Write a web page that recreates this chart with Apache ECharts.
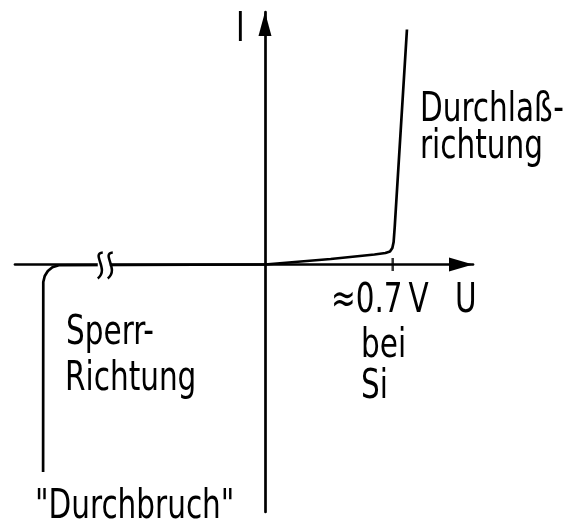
<!DOCTYPE html>
<html>
<head>
<meta charset="utf-8">
<script src="https://cdn.jsdelivr.net/npm/echarts@6/dist/echarts.min.js"></script>
<style>
  html, body { margin: 0; padding: 0; background: #fff; }
  #chart { width: 587px; height: 523px; }
</style>
</head>
<body>
<div id="chart"></div>
<script>
// Diode characteristic, U in V, I in arbitrary units (mA)
var forwardCurve = [
    [0, 0], [0.36, 2.2], [0.6, 4.0], [0.66, 4.6], [0.685, 5.2],
    [0.698, 6.6], [0.705, 9.0], [0.711, 15], [0.778, 94]
];
var reverseCurve = [
    [0, 0], [-1.13, -0.3], [-1.165, -1.1], [-1.19, -2.6], [-1.207, -4.6],
    [-1.215, -7.0], [-1.216, -83]
];
var breakMark = [[-0.9, 0]];
var tickMark = [[0.7, 0]];

var FONT = '"DejaVu Sans Condensed", "DejaVu Sans", sans-serif';

// annotation text, squeezed to the narrow lettering of the drawing
function label(text, x, y) {
    return {
        type: "text",
        x: x,
        y: y,
        scaleX: 0.8,
        style: {
            text: text,
            fill: "#000",
            font: "41px " + FONT,
            verticalAlign: "top",
        },
    };
}

var chart = echarts.init(document.getElementById("chart"));
chart.setOption({
    backgroundColor: "#fff",
    animation: false,
    grid: { left: 15, right: 114, top: 12, bottom: 11 },
    xAxis: {
        type: "value",
        min: -1.37,
        max: 1.14,
        axisLine: {
            onZero: true,
            symbol: ["none", "triangle"],
            symbolSize: [14, 24],
            symbolOffset: [0, -12],
            lineStyle: { color: "#000", width: 2.7 },
        },
        axisTick: { show: false },
        axisLabel: { show: false },
        splitLine: { show: false },
    },
    yAxis: {
        type: "value",
        min: -99,
        max: 101,
        axisLine: {
            onZero: true,
            symbol: ["none", "triangle"],
            symbolSize: [13, 24],
            symbolOffset: [0, -12],
            lineStyle: { color: "#000", width: 2.7 },
        },
        axisTick: { show: false },
        axisLabel: { show: false },
        splitLine: { show: false },
    },
    series: [
        {
            type: "line",
            data: forwardCurve,
            showSymbol: false,
            lineStyle: { color: "#000", width: 2.7 },
        },
        {
            type: "line",
            data: reverseCurve,
            showSymbol: false,
            lineStyle: { color: "#000", width: 2.7 },
        },
        {
            type: "scatter",
            data: tickMark,
            symbol: "rect",
            symbolSize: [2.5, 13],
            itemStyle: { color: "#000" },
            z: 5,
        },
        {
            type: "custom",
            data: breakMark,
            z: 5,
            renderItem: function (params, api) {
                var p = api.coord([api.value(0), api.value(1)]);
                var x = p[0], y = p[1];
                function s(dx) {
                    var cx = x + dx;
                    return {
                        type: "bezierCurve",
                        shape: {
                            x1: cx + 4, y1: y - 12,
                            x2: cx - 1, y2: y + 14,
                            cpx1: cx - 8, cpy1: y - 11,
                            cpx2: cx + 11, cpy2: y + 5,
                        },
                        style: { stroke: "#000", lineWidth: 2.5, fill: null },
                    };
                }
                return {
                    type: "group",
                    children: [
                        {
                            type: "rect",
                            shape: { x: x - 3, y: y - 3, width: 12, height: 6 },
                            style: { fill: "#fff" },
                        },
                        s(-2),
                        s(8),
                    ],
                };
            },
        },
    ],
    graphic: [
        label("I", 236, 10),
        label("Durchlaß-", 420, 90),
        label("richtung", 420, 127),
        label("≈0.7\u2009V", 331, 281),
        label("U", 455, 281),
        label("bei", 361, 326),
        label("Si", 361, 367),
        label("Sperr-", 66, 313),
        label("Richtung", 65, 359),
        label("\"Durchbruch\"", 35, 487),
    ],
});
</script>
</body>
</html>
